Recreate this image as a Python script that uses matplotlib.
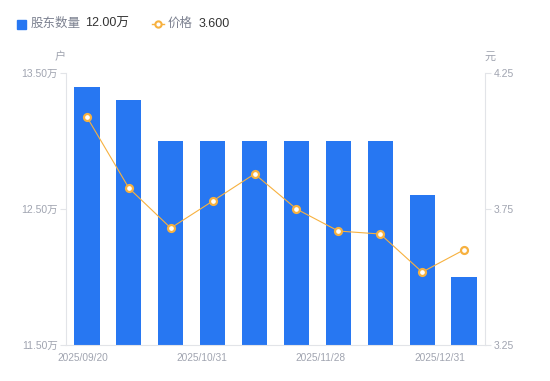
import numpy as np
import matplotlib.pyplot as plt
import matplotlib.transforms as mtransforms

# Shareholder count (10k households) and price per period
holders = [13.40, 13.30, 13.00, 13.00, 13.00, 13.00, 13.00, 13.00, 12.60, 12.00]
price = [4.088, 3.827, 3.680, 3.779, 3.879, 3.750, 3.669, 3.658, 3.518, 3.600]
label_idx = [0, 3, 6, 9]
label_text = ["2025/09/20", "2025/10/31", "2025/11/28", "2025/12/31"]

plt.rcParams["font.family"] = ["Liberation Sans", "Noto Sans CJK SC", "DejaVu Sans"]

BLUE = "#2777F2"
ORANGE = "#F7B13F"
GREY = "#A0A4B0"
AXIS = "#E2E4E8"

fig = plt.figure(figsize=(5.5, 3.81), dpi=100)
ax = fig.add_axes([0.12, 0.0945, 0.7618, 0.7139])
x = np.arange(len(holders))

ax.bar(x, holders, width=0.6, color=BLUE, zorder=2)
ax.set_ylim(11.5, 13.5)
ax.set_xlim(-0.5, len(holders) - 0.5)
ax.set_yticks([11.5, 12.5, 13.5])
ax.set_yticklabels(["%.2f万" % v for v in [11.5, 12.5, 13.5]])

ax2 = ax.twinx()
ax2.plot(x, price, color=ORANGE, linewidth=0.8, marker="o", markersize=5,
         markerfacecolor="white", markeredgecolor=ORANGE, markeredgewidth=1.6, zorder=3)
ax2.set_ylim(3.25, 4.25)
ax2.set_yticks([3.25, 3.75, 4.25])
ax2.set_yticklabels(["3.25", "3.75", "4.25"])

for a in (ax, ax2):
    for s in a.spines.values():
        s.set_visible(False)
    a.tick_params(axis="y", labelsize=7.5, length=4, width=0.8, color=AXIS,
                  labelcolor=GREY, pad=2)
ax.spines["left"].set_visible(True)
ax.spines["left"].set_color(AXIS)
ax.spines["bottom"].set_visible(True)
ax.spines["bottom"].set_color(AXIS)
ax2.spines["right"].set_visible(True)
ax2.spines["right"].set_color(AXIS)

ax.set_xticks(label_idx)
ax.set_xticklabels(label_text)
ax.tick_params(axis="x", length=0, pad=6, labelsize=7.3, labelcolor=GREY)
# labels are spread evenly across the axis rather than centred on bars
shifts = [-4, -11, -18, -24]
for lab, dx in zip(ax.get_xticklabels(), shifts):
    lab.set_transform(lab.get_transform() + mtransforms.ScaledTranslation(dx / 100, 0, fig.dpi_scale_trans))

# Unit labels
fig.text(60 / 550, 1 - 57 / 381, "户", color=GREY, fontsize=8, ha="center", va="center")
fig.text(490 / 550, 1 - 57 / 381, "元", color=GREY, fontsize=8, ha="center", va="center")

# Legend row
ly = 1 - 24 / 381
fig.patches.append(plt.Rectangle((17 / 550, 1 - 29 / 381), 9 / 550, 9 / 381, color=BLUE,
                                 transform=fig.transFigure, figure=fig))
fig.text(31 / 550, ly, "股东数量", color="#7C8190", fontsize=9, va="center")
fig.text(85 / 550, ly, "%.2f万" % holders[-1], color="#333333", fontsize=9, va="center")
fig.lines.append(plt.Line2D([152 / 550, 164 / 550], [ly, ly], color=ORANGE, linewidth=1,
                            transform=fig.transFigure))
fig.lines.append(plt.Line2D([158 / 550], [ly], color=ORANGE, marker="o", markersize=4.5,
                            markerfacecolor="white", markeredgewidth=1.5, transform=fig.transFigure))
fig.text(168 / 550, ly, "价格", color="#7C8190", fontsize=9, va="center")
fig.text(199 / 550, ly, "%.3f" % price[-1], color="#333333", fontsize=9, va="center")

plt.savefig("out.png", dpi=100)
